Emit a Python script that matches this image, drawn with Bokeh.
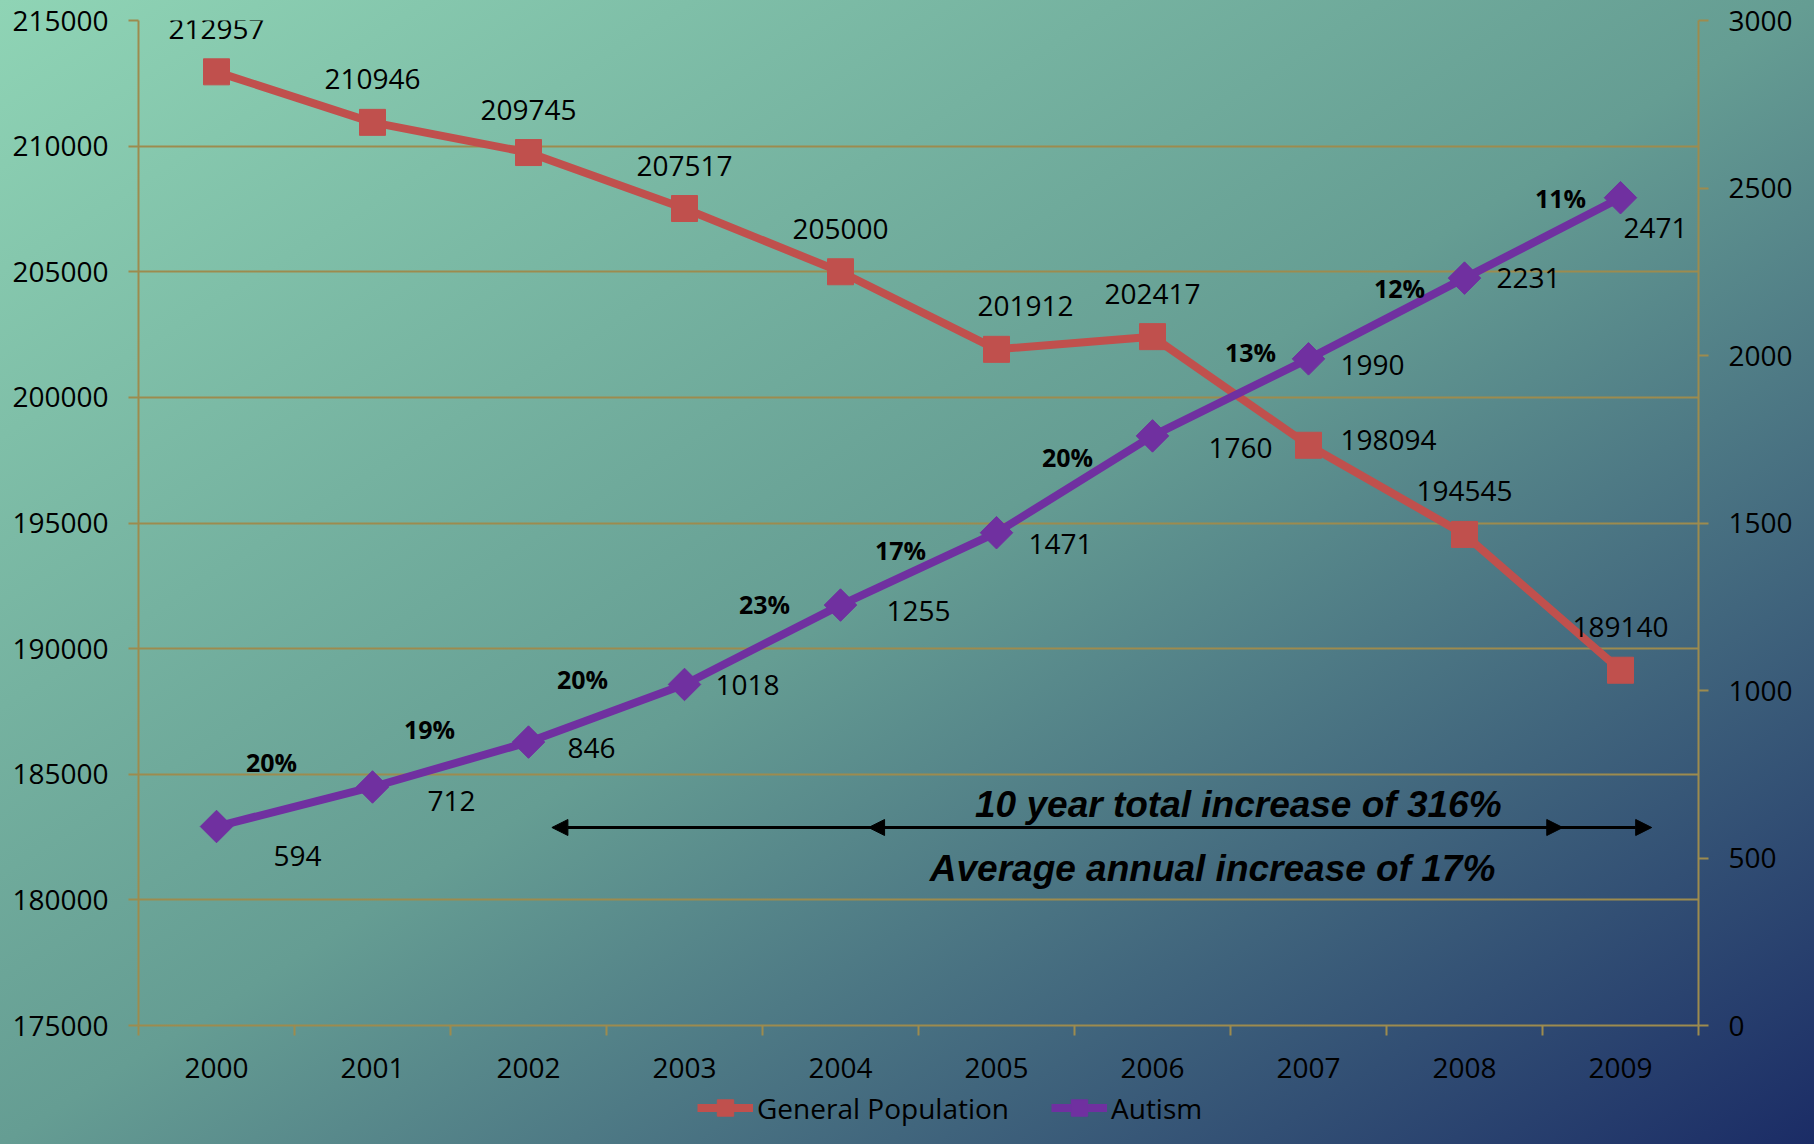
import numpy as np
from bokeh.plotting import figure
from bokeh.layouts import column
from bokeh.models import (ColumnDataSource, Range1d, LinearAxis, FixedTicker, Legend, LegendItem,
                          Arrow, NormalHead, Label, NumeralTickFormatter, GlobalInlineStyleSheet)
from bokeh.core.properties import value
from bokeh.embed import file_html
from bokeh.resources import INLINE

# ---------------- data ----------------
years = ["2000", "2001", "2002", "2003", "2004", "2005", "2006", "2007", "2008", "2009"]
general_population = [212957, 210946, 209745, 207517, 205000, 201912, 202417, 198094, 194545, 189140]
autism = [594, 712, 846, 1018, 1255, 1471, 1760, 1990, 2231, 2471]
annual_increase = ["20%", "19%", "20%", "23%", "17%", "20%", "13%", "12%", "11%"]
left_ticks = [175000, 180000, 185000, 190000, 195000, 200000, 205000, 210000, 215000]
right_ticks = [0, 500, 1000, 1500, 2000, 2500, 3000]
series_names = ["General Population", "Autism"]
note_total = "10 year total increase of 316%"
note_average = "Average annual increase of 17%"

# ---------------- label placement (screen px offsets) ----------------
gp_dx = [0, 0, 0, 0, 0, 29, 0, 80, 0, 0]
gp_dy = [-43, -43, -43, -43, -43, -43, -43, -5, -43, -43]
au_dx = [81, 79, 63, 63, 78, 64, 88, 64, 64, 35]
au_dy = [29, 14, 6, 1, 6, 11, 12, 6, 0, 30]
pc_dx = [-23, -21, -24, 2, -18, -7, 20, 13, 18]
pc_dy = [-45, -36, -34, -41, -19, -27, -45, -30, -40]

RED = "#c0504d"
PURPLE = "#7030a0"
GOLD = "#9d8b4e"
FONT = "Open Sans"

xs = list(range(len(years)))

p = figure(width=1798, height=1087, output_backend="svg", toolbar_location=None,
           x_range=Range1d(-0.5, len(years) - 0.5),
           y_range=Range1d(left_ticks[0], left_ticks[-1]),
           min_border_left=138, min_border_right=100, min_border_top=20, min_border_bottom=62)
p.extra_y_ranges = {"aut": Range1d(right_ticks[0], right_ticks[-1])}

p.background_fill_alpha = 0
p.border_fill_alpha = 0
p.outline_line_color = None

p.stylesheets = [GlobalInlineStyleSheet(css=
    "html, body { background: linear-gradient(to bottom right, #8fd4b5 0%, #659d93 50%, #1b2c66 100%) fixed; }")]

# x axis
xa = p.xaxis[0]
xa.ticker = FixedTicker(ticks=xs, minor_ticks=[i - 0.5 for i in range(len(years) + 1)])
xa.major_label_overrides = {i: y for i, y in enumerate(years)}
xa.major_tick_line_color = None
xa.major_tick_out = 10
xa.major_tick_in = 0
xa.minor_tick_line_color = GOLD
xa.minor_tick_line_width = 2
xa.minor_tick_out = 10
xa.minor_tick_in = 0
xa.axis_line_color = GOLD
xa.axis_line_width = 2
xa.major_label_standoff = 22
xa.major_label_text_font = FONT
xa.major_label_text_font_size = "28px"
xa.major_label_text_color = "black"

# left axis
ya = p.yaxis[0]
ya.ticker = FixedTicker(ticks=left_ticks)
ya.formatter = NumeralTickFormatter(format="0")
ya.major_tick_out = 10
ya.major_tick_in = 0
ya.major_tick_line_color = GOLD
ya.major_tick_line_width = 2
ya.minor_tick_line_color = None
ya.axis_line_color = GOLD
ya.axis_line_width = 2
ya.major_label_standoff = 20
ya.major_label_text_font = FONT
ya.major_label_text_font_size = "28px"
ya.major_label_text_color = "black"

# right axis
ra = LinearAxis(y_range_name="aut", ticker=FixedTicker(ticks=right_ticks),
                formatter=NumeralTickFormatter(format="0"))
ra.major_tick_out = 10
ra.major_tick_in = 0
ra.major_tick_line_color = GOLD
ra.major_tick_line_width = 2
ra.minor_tick_line_color = None
ra.axis_line_color = GOLD
ra.axis_line_width = 2
ra.major_label_standoff = 20
ra.major_label_text_font = FONT
ra.major_label_text_font_size = "28px"
ra.major_label_text_color = "black"
p.add_layout(ra, "right")

p.xgrid.visible = False
p.ygrid.grid_line_color = GOLD
p.ygrid.grid_line_width = 2

# series
gp_line = p.line(xs, general_population, line_color=RED, line_width=8)
gp_pts = p.scatter(xs, general_population, marker="square", size=26, fill_color=RED, line_color=RED)
au_line = p.line(xs, autism, line_color=PURPLE, line_width=8, y_range_name="aut")
au_pts = p.scatter(xs, autism, marker="square", angle=np.pi / 4, size=23,
                   fill_color=PURPLE, line_color=PURPLE, y_range_name="aut")

# data labels
gp_src = ColumnDataSource(dict(x=xs, y=general_population, t=[str(v) for v in general_population],
                               dx=gp_dx, dy=gp_dy))
p.text(x="x", y="y", text="t", source=gp_src, x_offset="dx", y_offset="dy",
       text_align="center", text_baseline="middle", text_font=value(FONT),
       text_font_size="28px", text_color="black")

au_src = ColumnDataSource(dict(x=xs, y=autism, t=[str(v) for v in autism], dx=au_dx, dy=au_dy))
p.text(x="x", y="y", text="t", source=au_src, x_offset="dx", y_offset="dy", y_range_name="aut",
       text_align="center", text_baseline="middle", text_font=value(FONT),
       text_font_size="28px", text_color="black")

pc_src = ColumnDataSource(dict(
    x=[(xs[i] + xs[i + 1]) / 2 for i in range(len(annual_increase))],
    y=[(autism[i] + autism[i + 1]) / 2 for i in range(len(annual_increase))],
    t=annual_increase, dx=pc_dx, dy=pc_dy))
p.text(x="x", y="y", text="t", source=pc_src, x_offset="dx", y_offset="dy", y_range_name="aut",
       text_align="center", text_baseline="middle", text_font=value(FONT), text_font_style="bold",
       text_font_size="25px", text_color="black")

# arrows + notes
arrow_y = 182880
for xa0, xa1 in [(2.15, 8.63), (4.18, 9.2)]:
    p.add_layout(Arrow(start=NormalHead(size=16, fill_color="black", line_color="black"),
                       end=NormalHead(size=16, fill_color="black", line_color="black"),
                       x_start=xa0, y_start=arrow_y, x_end=xa1, y_end=arrow_y,
                       line_color="black", line_width=3))

p.add_layout(Label(x=6.55, y=183800, text=note_total, text_align="center", text_baseline="middle",
                   text_font="Liberation Sans", text_font_style="bold italic",
                   text_font_size="37px", text_color="black"))
p.add_layout(Label(x=6.385, y=181250, text=note_average, text_align="center", text_baseline="middle",
                   text_font="Liberation Sans", text_font_style="bold italic",
                   text_font_size="37px", text_color="black"))

# legend strip (separate small figure below the chart; its glyph handles lie outside its ranges)
lg = figure(width=1798, height=41, output_backend="svg", toolbar_location=None,
            x_axis_location=None, y_axis_location=None,
            x_range=Range1d(100, 101), y_range=Range1d(-2, -1),
            min_border_left=0, min_border_right=0, min_border_top=0, min_border_bottom=0)
lg.background_fill_alpha = 0
lg.border_fill_alpha = 0
lg.outline_line_color = None
lg.grid.visible = False
l1 = lg.line(xs, general_population, line_color=RED, line_width=8)
s1 = lg.scatter(xs, general_population, marker="square", size=26, fill_color=RED, line_color=RED)
l2 = lg.line(xs, autism, line_color=PURPLE, line_width=8)
s2 = lg.scatter(xs, autism, marker="square", angle=np.pi / 4, size=23,
                fill_color=PURPLE, line_color=PURPLE)
legend = Legend(items=[LegendItem(label=series_names[0], renderers=[l1, s1]),
                       LegendItem(label=series_names[1], renderers=[l2, s2])],
                orientation="horizontal", location=(559, 0),
                glyph_width=56, glyph_height=41, label_standoff=4, spacing=42,
                padding=0, margin=0, border_line_color=None, background_fill_alpha=0,
                label_text_font=FONT, label_text_font_size="28px", label_text_color="black")
lg.add_layout(legend)

root = column(p, lg, spacing=0)
open("out.html", "w").write(file_html(root, INLINE))
